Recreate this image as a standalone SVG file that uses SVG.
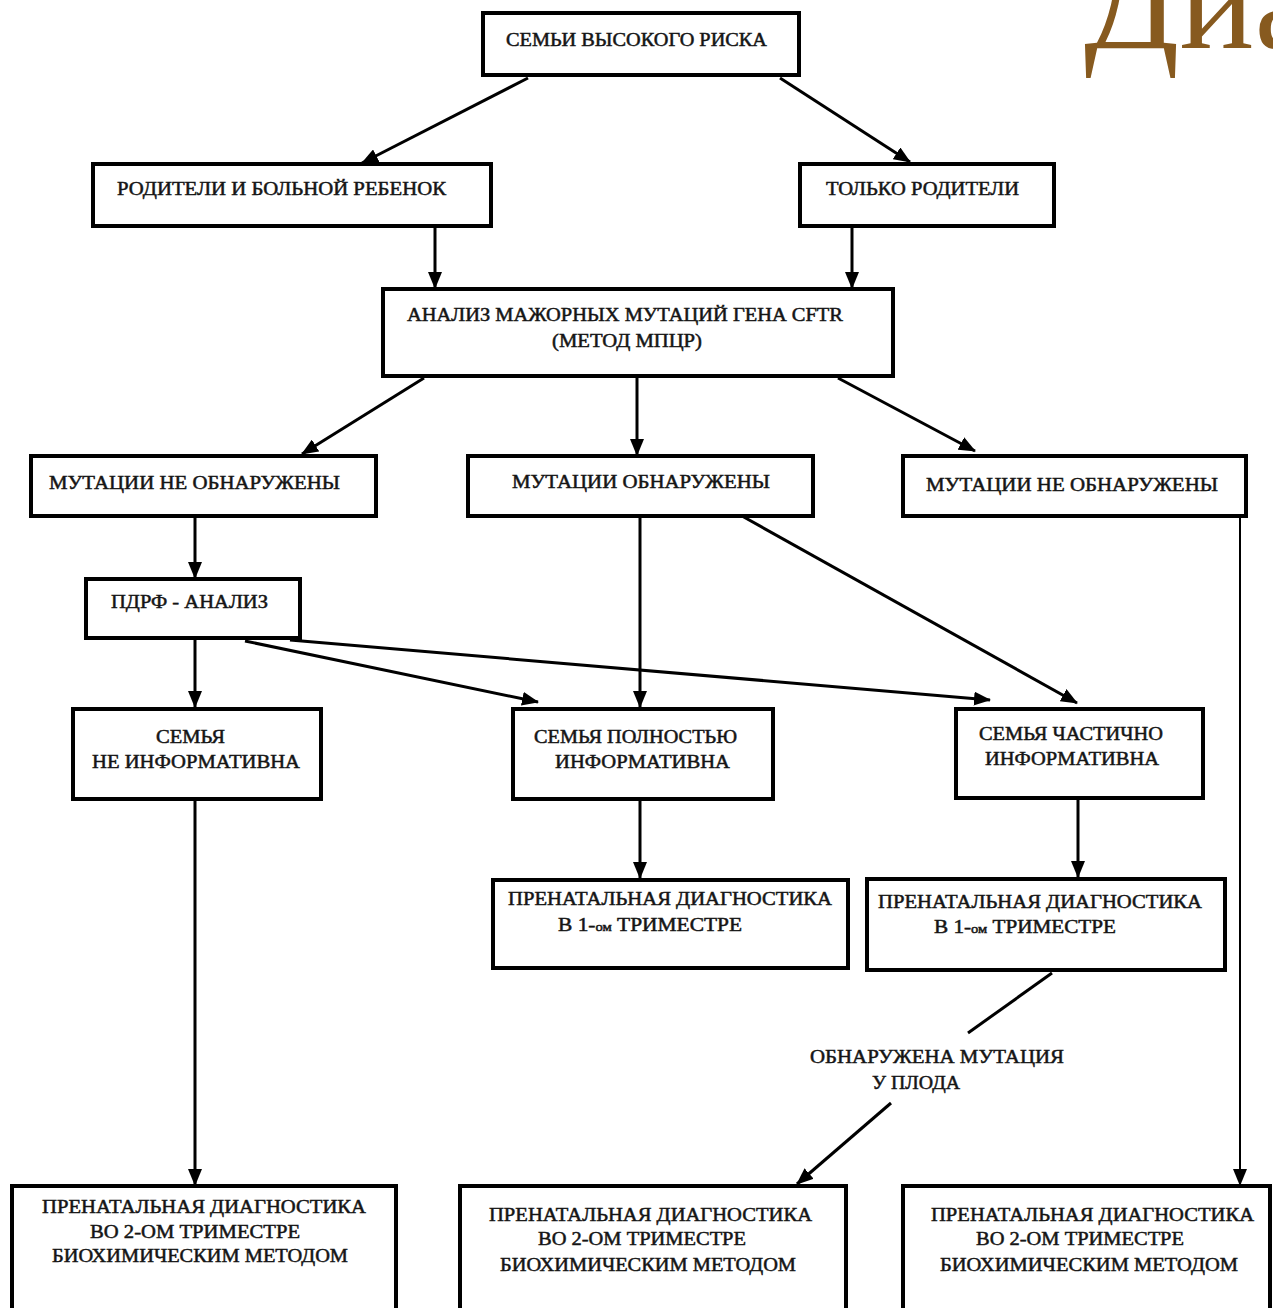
<svg xmlns="http://www.w3.org/2000/svg" width="1273" height="1308" viewBox="0 0 1273 1308">
<defs>
<style>
.box{fill:#fff;stroke:#000;stroke-width:4}
.t{font-family:"Liberation Serif","Times New Roman",serif;font-size:19px;fill:#151515;stroke:#151515;stroke-width:0.5}
.c{fill:none;stroke:#000;stroke-width:3}
.thin{fill:none;stroke:#000;stroke-width:2}
.title{font-family:"Liberation Serif","Times New Roman",serif;font-size:140px;fill:#875a1f}
</style>
<marker id="ah" markerUnits="userSpaceOnUse" markerWidth="18" markerHeight="14" refX="16" refY="7" orient="auto">
<path d="M0,0 L17,7 L0,14 Z" fill="#000"/>
</marker>
</defs>
<rect width="1273" height="1308" fill="#fff"/>
<text class="title" x="1084" y="48">Диа</text>

<g id="connectors">
<line class="c" x1="528" y1="78" x2="362" y2="163" marker-end="url(#ah)"/>
<line class="c" x1="780" y1="78" x2="910" y2="162" marker-end="url(#ah)"/>
<line class="c" x1="435" y1="226" x2="435" y2="288" marker-end="url(#ah)"/>
<line class="c" x1="852" y1="226" x2="852" y2="288" marker-end="url(#ah)"/>
<line class="c" x1="424" y1="378" x2="302" y2="454" marker-end="url(#ah)"/>
<line class="c" x1="637" y1="376" x2="637" y2="455" marker-end="url(#ah)"/>
<line class="c" x1="838" y1="378" x2="975" y2="451" marker-end="url(#ah)"/>
<line class="c" x1="195" y1="516" x2="195" y2="578" marker-end="url(#ah)"/>
<line class="c" x1="640" y1="516" x2="640" y2="707" marker-end="url(#ah)"/>
<line class="c" x1="742" y1="516" x2="1077" y2="703" marker-end="url(#ah)"/>
<line class="thin" x1="1240" y1="516" x2="1240" y2="1185" marker-end="url(#ah)"/>
<line class="c" x1="195" y1="638" x2="195" y2="707" marker-end="url(#ah)"/>
<line class="c" x1="245" y1="641" x2="538" y2="702" marker-end="url(#ah)"/>
<line class="c" x1="290" y1="640" x2="990" y2="700" marker-end="url(#ah)"/>
<line class="c" x1="195" y1="799" x2="195" y2="1185" marker-end="url(#ah)"/>
<line class="c" x1="640" y1="799" x2="640" y2="878" marker-end="url(#ah)"/>
<line class="c" x1="1078" y1="798" x2="1078" y2="877" marker-end="url(#ah)"/>
<line class="c" x1="1052" y1="973" x2="968" y2="1033"/>
<line class="c" x1="891" y1="1103" x2="797" y2="1184" marker-end="url(#ah)"/>
</g>

<g id="n1"><rect class="box" x="483" y="13" width="316" height="62"/>
<text class="t" x="506" y="46" textLength="261" lengthAdjust="spacingAndGlyphs">СЕМЬИ ВЫСОКОГО РИСКА</text></g>

<g id="n2"><rect class="box" x="93" y="164" width="398" height="62"/>
<text class="t" x="117" y="195" textLength="329" lengthAdjust="spacingAndGlyphs">РОДИТЕЛИ И БОЛЬНОЙ РЕБЕНОК</text></g>

<g id="n3"><rect class="box" x="800" y="164" width="254" height="62"/>
<text class="t" x="826" y="195" textLength="193" lengthAdjust="spacingAndGlyphs">ТОЛЬКО РОДИТЕЛИ</text></g>

<g id="n4"><rect class="box" x="383" y="289" width="510" height="87"/>
<text class="t" x="407" y="321" textLength="436" lengthAdjust="spacingAndGlyphs">АНАЛИЗ МАЖОРНЫХ МУТАЦИЙ ГЕНА CFTR</text>
<text class="t" x="552" y="347" textLength="150" lengthAdjust="spacingAndGlyphs">(МЕТОД МПЦР)</text></g>

<g id="n5"><rect class="box" x="31" y="456" width="345" height="60"/>
<text class="t" x="49" y="489" textLength="291" lengthAdjust="spacingAndGlyphs">МУТАЦИИ НЕ ОБНАРУЖЕНЫ</text></g>

<g id="n6"><rect class="box" x="468" y="456" width="345" height="60"/>
<text class="t" x="512" y="488" textLength="258" lengthAdjust="spacingAndGlyphs">МУТАЦИИ ОБНАРУЖЕНЫ</text></g>

<g id="n7"><rect class="box" x="903" y="456" width="343" height="60"/>
<text class="t" x="926" y="491" textLength="292" lengthAdjust="spacingAndGlyphs">МУТАЦИИ НЕ ОБНАРУЖЕНЫ</text></g>

<g id="n8"><rect class="box" x="86" y="579" width="214" height="59"/>
<text class="t" x="111" y="608" textLength="157" lengthAdjust="spacingAndGlyphs">ПДРФ - АНАЛИЗ</text></g>

<g id="n9"><rect class="box" x="73" y="709" width="248" height="90"/>
<text class="t" x="156" y="743" textLength="69" lengthAdjust="spacingAndGlyphs">СЕМЬЯ</text>
<text class="t" x="92" y="768" textLength="208" lengthAdjust="spacingAndGlyphs">НЕ ИНФОРМАТИВНА</text></g>

<g id="n10"><rect class="box" x="513" y="709" width="260" height="90"/>
<text class="t" x="534" y="743" textLength="203" lengthAdjust="spacingAndGlyphs">СЕМЬЯ ПОЛНОСТЬЮ</text>
<text class="t" x="555" y="768" textLength="175" lengthAdjust="spacingAndGlyphs">ИНФОРМАТИВНА</text></g>

<g id="n11"><rect class="box" x="956" y="709" width="247" height="89"/>
<text class="t" x="979" y="740" textLength="184" lengthAdjust="spacingAndGlyphs">СЕМЬЯ ЧАСТИЧНО</text>
<text class="t" x="985" y="765" textLength="174" lengthAdjust="spacingAndGlyphs">ИНФОРМАТИВНА</text></g>

<g id="n12"><rect class="box" x="493" y="880" width="355" height="88"/>
<text class="t" x="508" y="905" textLength="324" lengthAdjust="spacingAndGlyphs">ПРЕНАТАЛЬНАЯ ДИАГНОСТИКА</text>
<text class="t" x="558" y="931" textLength="184" lengthAdjust="spacingAndGlyphs">В 1-<tspan font-size="13">ом</tspan> ТРИМЕСТРЕ</text></g>

<g id="n13"><rect class="box" x="867" y="879" width="358" height="91"/>
<text class="t" x="878" y="908" textLength="324" lengthAdjust="spacingAndGlyphs">ПРЕНАТАЛЬНАЯ ДИАГНОСТИКА</text>
<text class="t" x="934" y="933" textLength="182" lengthAdjust="spacingAndGlyphs">В 1-<tspan font-size="13">ом</tspan> ТРИМЕСТРЕ</text></g>

<g id="n14">
<text class="t" x="810" y="1063" textLength="254" lengthAdjust="spacingAndGlyphs">ОБНАРУЖЕНА МУТАЦИЯ</text>
<text class="t" x="872" y="1089" textLength="88" lengthAdjust="spacingAndGlyphs">У ПЛОДА</text></g>

<g id="n15"><rect class="box" x="12" y="1186" width="384" height="140"/>
<text class="t" x="42" y="1213" textLength="324" lengthAdjust="spacingAndGlyphs">ПРЕНАТАЛЬНАЯ ДИАГНОСТИКА</text>
<text class="t" x="90" y="1238" textLength="210" lengthAdjust="spacingAndGlyphs">ВО 2-ОМ ТРИМЕСТРЕ</text>
<text class="t" x="52" y="1262" textLength="296" lengthAdjust="spacingAndGlyphs">БИОХИМИЧЕСКИМ МЕТОДОМ</text></g>

<g id="n16"><rect class="box" x="460" y="1186" width="386" height="140"/>
<text class="t" x="489" y="1221" textLength="323" lengthAdjust="spacingAndGlyphs">ПРЕНАТАЛЬНАЯ ДИАГНОСТИКА</text>
<text class="t" x="538" y="1245" textLength="208" lengthAdjust="spacingAndGlyphs">ВО 2-ОМ ТРИМЕСТРЕ</text>
<text class="t" x="500" y="1271" textLength="296" lengthAdjust="spacingAndGlyphs">БИОХИМИЧЕСКИМ МЕТОДОМ</text></g>

<g id="n17"><rect class="box" x="903" y="1186" width="367" height="140"/>
<text class="t" x="931" y="1221" textLength="323" lengthAdjust="spacingAndGlyphs">ПРЕНАТАЛЬНАЯ ДИАГНОСТИКА</text>
<text class="t" x="976" y="1245" textLength="208" lengthAdjust="spacingAndGlyphs">ВО 2-ОМ ТРИМЕСТРЕ</text>
<text class="t" x="940" y="1271" textLength="298" lengthAdjust="spacingAndGlyphs">БИОХИМИЧЕСКИМ МЕТОДОМ</text></g>
</svg>
